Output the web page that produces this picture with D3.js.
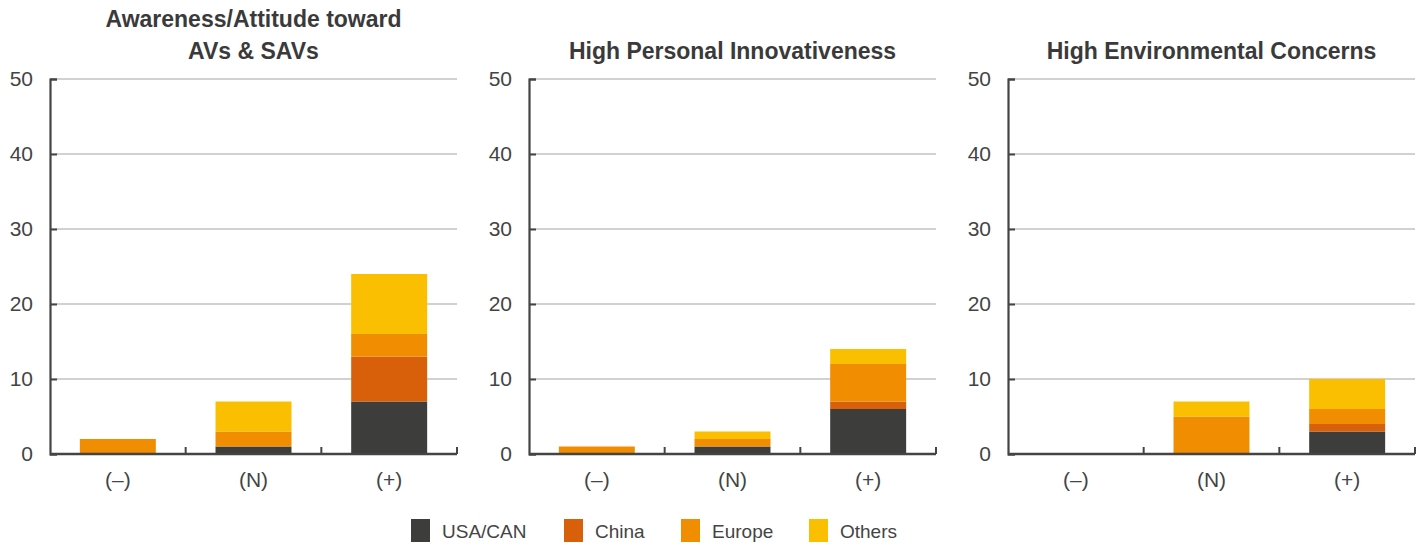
<!DOCTYPE html>
<html>
<head>
<meta charset="utf-8">
<script src="https://cdn.jsdelivr.net/npm/d3@7"></script>
<style>
  body { margin: 0; background: #fff; }
  svg { display: block; font-family: "Liberation Sans", Arial, sans-serif; }
</style>
</head>
<body>
<div id="container"></div>
<script>
const categories = ["(\u2013)", "(N)", "(+)"];
const seriesNames = ["USA/CAN", "China", "Europe", "Others"];
const seriesColors = ["#3d3d3b", "#d9600a", "#f18d00", "#fabf00"];
const panelTitles = [
  ["Awareness/Attitude toward", "AVs & SAVs"],
  ["High Personal Innovativeness"],
  ["High Environmental Concerns"]
];
const yTicks = [0, 10, 20, 30, 40, 50];

// one row per panel, one value per category
const usaCanValues = [[0, 1, 7], [0, 1, 6], [0, 0, 3]];
const chinaValues  = [[0, 0, 6], [0, 0, 1], [0, 0, 1]];
const europeValues = [[2, 2, 3], [1, 1, 5], [0, 5, 2]];
const othersValues = [[0, 4, 8], [0, 1, 2], [0, 2, 4]];

const W = 1426, H = 547;
const panelLeft = [50, 529, 1008];
const panelWidth = 407;
const plotTop = 79, plotBottom = 454;
const textColor = "#444";

const svg = d3.select("#container").append("svg")
  .attr("width", W)
  .attr("height", H);

const y = d3.scaleLinear().domain([0, 50]).range([plotBottom, plotTop]);
const x = d3.scaleBand()
  .domain(categories)
  .range([0, panelWidth])
  .paddingInner(0.44)
  .paddingOuter(0.22);

const color = d3.scaleOrdinal().domain(seriesNames).range(seriesColors);

panelTitles.forEach((title, p) => {
  const rows = categories.map((c, i) => ({
    category: c,
    "USA/CAN": usaCanValues[p][i],
    "China": chinaValues[p][i],
    "Europe": europeValues[p][i],
    "Others": othersValues[p][i]
  }));
  const stacked = d3.stack().keys(seriesNames)(rows);

  const g = svg.append("g").attr("transform", `translate(${panelLeft[p]},0)`);

  // title
  const t = g.append("text")
    .attr("x", panelWidth / 2)
    .attr("text-anchor", "middle")
    .attr("font-size", 23)
    .attr("font-weight", "bold")
    .attr("fill", "#3a3a3a");
  const lines = title.length === 2 ? [27, 59] : [59];
  title.forEach((line, i) => {
    t.append("tspan").attr("x", panelWidth / 2).attr("y", lines[i]).text(line);
  });

  // gridlines
  g.append("g")
    .selectAll("line")
    .data(yTicks.filter(d => d > 0))
    .join("line")
    .attr("x1", 0)
    .attr("x2", panelWidth)
    .attr("y1", d => y(d))
    .attr("y2", d => y(d))
    .attr("stroke", "#a3a3a3")
    .attr("stroke-width", 1.2);

  // bars
  g.append("g")
    .selectAll("g")
    .data(stacked)
    .join("g")
    .attr("fill", d => color(d.key))
    .selectAll("rect")
    .data(d => d.filter(s => s[1] > s[0]))
    .join("rect")
    .attr("x", d => x(d.data.category))
    .attr("y", d => y(d[1]))
    .attr("width", x.bandwidth())
    .attr("height", d => y(d[0]) - y(d[1]));

  // y axis
  const yAxis = g.append("g")
    .call(d3.axisLeft(y).tickValues(yTicks).tickSize(-7).tickPadding(17));
  yAxis.select(".domain").attr("stroke", textColor).attr("stroke-width", 2.2);
  yAxis.selectAll(".tick line").attr("stroke", textColor).attr("stroke-width", 2);
  yAxis.selectAll(".tick text")
    .attr("font-size", 21)
    .attr("fill", textColor)
    .attr("font-family", "Liberation Sans, Arial, sans-serif");

  // x axis line and boundary ticks
  g.append("line")
    .attr("x1", 0).attr("x2", panelWidth)
    .attr("y1", plotBottom).attr("y2", plotBottom)
    .attr("stroke", textColor).attr("stroke-width", 2.5);
  const half = x.step() * x.paddingInner() / 2;
  const bounds = categories.slice(1).map(c => x(c) - half).concat([panelWidth]);
  g.append("g")
    .selectAll("line")
    .data(bounds)
    .join("line")
    .attr("x1", d => d).attr("x2", d => d)
    .attr("y1", plotBottom).attr("y2", plotBottom - 7)
    .attr("stroke", textColor).attr("stroke-width", 2);

  g.append("g")
    .selectAll("text")
    .data(categories)
    .join("text")
    .attr("x", d => x(d) + x.bandwidth() / 2)
    .attr("y", 487)
    .attr("text-anchor", "middle")
    .attr("font-size", 21)
    .attr("fill", textColor)
    .text(d => d);
});

// legend
const legendX = [411, 564, 681, 809];
const legend = svg.append("g")
  .selectAll("g")
  .data(seriesNames)
  .join("g")
  .attr("transform", (d, i) => `translate(${legendX[i]},519)`);
legend.append("rect")
  .attr("width", 19)
  .attr("height", 23)
  .attr("fill", d => color(d));
legend.append("text")
  .attr("x", 31)
  .attr("y", 19)
  .attr("font-size", 19)
  .attr("fill", textColor)
  .text(d => d);
</script>
</body>
</html>
